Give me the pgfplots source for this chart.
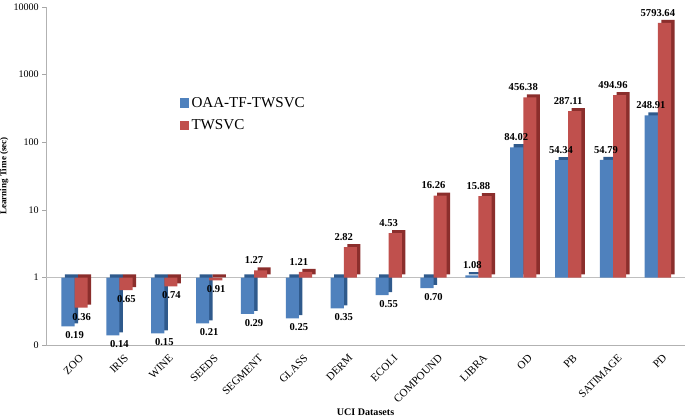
\documentclass[border=0pt]{standalone}
\usepackage{pgfplots}
\pgfplotsset{compat=1.18}
\usepackage{pgfplotstable}
\usepackage{fontspec}
\setmainfont{Liberation Serif}
\definecolor{bfront}{HTML}{4F81BD}
\definecolor{bside}{HTML}{2F5A8C}
\definecolor{rfront}{HTML}{C0504D}
\definecolor{rside}{HTML}{8B2E2C}
\pgfplotstableread{
x a al ay ax b bl by bx
0 0.19 0.19 -9 0 0.36 0.36 -9 7
1 0.14 0.14 -9 0 0.65 0.65 -9 7
2 0.15 0.15 -9 0 0.74 0.74 -9 7
3 0.21 0.21 -9 0 0.91 0.91 -9 7
4 0.29 0.29 -9 0 1.27 1.27 10 0
5 0.25 0.25 -9 0 1.21 1.21 10 0
6 0.35 0.35 -9 0 2.82 2.82 10 0
7 0.55 0.55 -9 0 4.53 4.53 10 0
8 0.70 0.70 -9 0 16.26 16.26 10 0
9 1.08 1.08 10 -6 15.88 15.88 10 0
10 84.02 84.02 10 -7 456.38 456.38 10 0
11 54.34 54.34 10 -7 287.11 287.11 10 0
12 54.79 54.79 10 -7 494.96 494.96 10 0
13 248.91 248.91 10 -7 5793.64 5793.64 10 0
}\data
\begin{document}
\begin{tikzpicture}
\begin{axis}[
  width=632bp, height=335bp, scale only axis,
  ymode=log, ymin=0.1, ymax=10000,
  ytick={0.1,1,10,100,1000,10000},
  yticklabels={0,1,10,100,1000,10000},
  extra y ticks={1}, extra y tick labels={},
  extra y tick style={grid=major, major grid style={gray!50}},
  xmin=-0.63, xmax=13.6,
  xtick={0,...,13},
  xticklabels={ZOO,IRIS,WINE,SEEDS,SEGMENT,GLASS,DERM,ECOLI,COMPOUND,LIBRA,OD,PB,SATIMAGE,PD},
  x tick label style={rotate=45, anchor=north east, font=\rmfamily\fontsize{11}{13}\selectfont, inner sep=1bp, yshift=-5bp, xshift=1bp},
  y tick label style={font=\rmfamily\fontsize{10}{12}\selectfont},
  /pgf/number format/assume math mode=true,
  xtick style={draw=none},
  ytick style={gray!70},
  tick align=outside,
  major tick length=4bp,
  yminorticks=false,
  axis x line*=bottom, axis y line*=left,
  axis line style={gray!60, -},
  xlabel={UCI Datasets},
  ylabel={Learning Time (sec)},
  xlabel style={font=\rmfamily\bfseries\fontsize{10}{12}\selectfont},
  every axis y label/.style={at={(axis description cs:-0.066,0.5)}, rotate=90, anchor=center, inner sep=0bp,
    font=\rmfamily\bfseries\fontsize{9}{11}\selectfont},
  clip=false,
  legend style={at={(0.205,0.745)}, anchor=north west, draw=none, fill=none,
    font=\rmfamily\fontsize{15}{18}\selectfont, row sep=7bp},
  legend cell align=left,
]
\addplot[ybar, bar width=13bp, bar shift=-6.5bp, fill=bside, draw=none,
  xshift=3.5bp, yshift=3bp, forget plot] table[x=x, y=a] {\data};
\addplot[ybar, bar width=13bp, bar shift=-6.5bp, fill=bfront, draw=none,
  point meta=explicit symbolic,
  visualization depends on={\thisrow{ay} \as \ys},
  visualization depends on={\thisrow{ax} \as \xs},
  nodes near coords,
  every node near coord/.append style={font=\rmfamily\bfseries\fontsize{10.5}{12}\selectfont, black, anchor=center, xshift=\xs bp, yshift=\ys bp, inner sep=0bp},
  legend image code/.code={\fill[bfront] (0bp,-4.5bp) rectangle (9bp,4.5bp);}]
  table[x=x, y=a, meta=al] {\data};
\addlegendentry{OAA-TF-TWSVC}
\addplot[ybar, bar width=13bp, bar shift=6.5bp, fill=rside, draw=none,
  xshift=3.5bp, yshift=3bp, forget plot] table[x=x, y=b] {\data};
\addplot[ybar, bar width=13bp, bar shift=6.5bp, fill=rfront, draw=none,
  point meta=explicit symbolic,
  visualization depends on={\thisrow{by} \as \ys},
  visualization depends on={\thisrow{bx} \as \xs},
  nodes near coords,
  every node near coord/.append style={font=\rmfamily\bfseries\fontsize{10.5}{12}\selectfont, black, anchor=center, xshift=\xs bp, yshift=\ys bp, inner sep=0bp},
  legend image code/.code={\fill[rfront] (0bp,-4.5bp) rectangle (9bp,4.5bp);}]
  table[x=x, y=b, meta=bl] {\data};
\addlegendentry{TWSVC}
\end{axis}
\end{tikzpicture}
\end{document}
